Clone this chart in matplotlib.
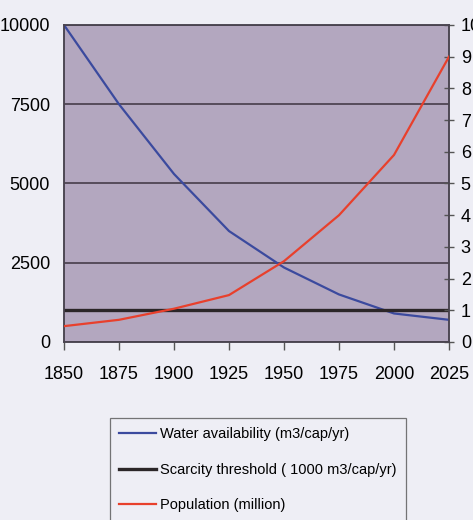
import matplotlib.pyplot as plt

# data
years = [1850, 1875, 1900, 1925, 1950, 1975, 2000, 2025]
water = [10000, 7500, 5300, 3500, 2350, 1500, 900, 700]
threshold = [1000, 1000, 1000, 1000, 1000, 1000, 1000, 1000]
population = [500, 700, 1050, 1480, 2550, 4000, 5900, 9000]

left_ticks = [0, 2500, 5000, 7500, 10000]
right_ticks = [0, 1000, 2000, 3000, 4000, 5000, 6000, 7000, 8000, 9000, 10000]
right_labels = ['0', '1', '2', '3', '4', '5', '6', '7', '8', '9', '10']

plt.rcParams['font.family'] = ['Liberation Sans', 'DejaVu Sans']

fig = plt.figure(figsize=(4.73, 5.2), dpi=100, facecolor='#eeeef5')
ax = fig.add_axes([64/473, 1-342/520, (449-64)/473, (342-25)/520])
ax.set_facecolor('#b3a7bf')

ax.plot(years, water, color='#3b4a9e', lw=1.6, label='Water availability (m3/cap/yr)', zorder=3)
ax.plot(years, threshold, color='#2b2628', lw=2.4, label='Scarcity threshold ( 1000 m3/cap/yr)', zorder=4)

ax.set_xlim(1850, 2025)
ax.set_ylim(0, 10000)
ax.set_xticks(years)
ax.set_yticks(left_ticks)
ax.grid(axis='y', color='#3d3440', lw=1.1)
ax.set_axisbelow(True)
ax.tick_params(axis='y', length=0, pad=10, labelsize=13)
ax.tick_params(axis='x', length=6, width=1, color='#555', direction='out', pad=11.5, labelsize=13)
for s in ax.spines.values():
    s.set_color('#4a4450')
    s.set_linewidth(1.1)

# population in million, right axis labelled in thousands of million
ax2 = ax.twinx()
ax2.plot(years, population, color='#e8402c', lw=1.6, label='Population (million)', zorder=3)
ax2.set_ylim(0, 10000)
ax2.set_yticks(right_ticks)
ax2.set_yticklabels(right_labels)
ax2.tick_params(axis='y', direction='inout', length=7, width=1, color='#555', pad=5, labelsize=13)
for s in ax2.spines.values():
    s.set_color('#4a4450')
    s.set_linewidth(1.1)

h1, l1 = ax.get_legend_handles_labels()
h2, l2 = ax2.get_legend_handles_labels()
leg = fig.legend(h1 + h2, l1 + l2, loc='upper left', bbox_to_anchor=(110/473, 1-418/520),
                 fontsize=10.5, frameon=True, fancybox=False, handlelength=2.5,
                 handletextpad=0.3, labelspacing=1.45, borderpad=0.65,
                 facecolor='#eeeef5', edgecolor='#555555', borderaxespad=0)
leg.get_frame().set_linewidth(0.9)

plt.savefig('out.png', dpi=100, facecolor=fig.get_facecolor())
